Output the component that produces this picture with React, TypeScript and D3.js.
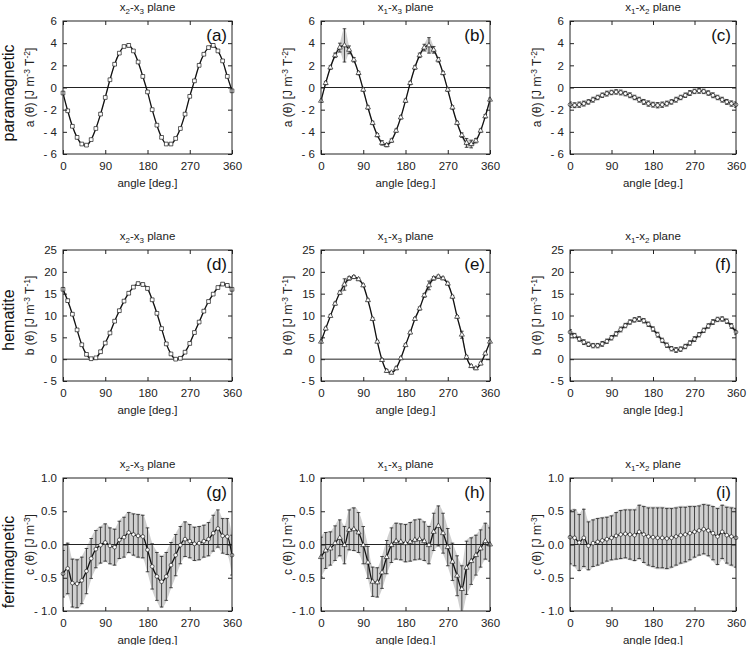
import { useEffect, useRef } from 'react';
import * as d3 from 'd3';

const W = 747;
const H = 645;
const FONT = 'Liberation Sans, Arial, Helvetica, sans-serif';

const angles = [0, 10, 20, 30, 40, 50, 60, 70, 80, 90, 100, 110, 120, 130, 140, 150, 160, 170, 180,
  190, 200, 210, 220, 230, 240, 250, 260, 270, 280, 290, 300, 310, 320, 330, 340, 350, 360];
const angleTicks = [0, 90, 180, 270, 360];
const aTicks = [-6, -4, -2, 0, 2, 4, 6];
const bTicks = [-5, 0, 5, 10, 15, 20, 25];
const cTicks = [-1, -0.5, 0, 0.5, 1];
const rowNames = ['paramagnetic', 'hematite', 'ferrimagnetic'];

// paramagnetic a(θ)
const aX2X3 = [-0.5, -2.1, -3.5, -4.5, -5.1, -5.2, -4.7, -3.7, -2.4, -0.9, 0.7, 2.1, 3.1, 3.7, 3.8, 3.3, 2.3, 1.0, -0.4,
  -2.0, -3.4, -4.5, -5.1, -5.1, -4.6, -3.7, -2.4, -0.8, 0.6, 2.0, 3.0, 3.6, 3.8, 3.3, 2.4, 1.0, -0.3];
const aX2X3Err = [0.12, 0.1, 0.1, 0.12, 0.1, 0.12, 0.1, 0.1, 0.12, 0.1, 0.1, 0.12, 0.1, 0.1, 0.15, 0.1, 0.1, 0.12, 0.1,
  0.1, 0.12, 0.1, 0.1, 0.12, 0.1, 0.1, 0.12, 0.1, 0.1, 0.12, 0.1, 0.1, 0.15, 0.1, 0.1, 0.12, 0.1];
const aX1X3 = [-1.2, 0.4, 1.8, 2.9, 3.6, 3.8, 3.4, 2.5, 1.3, -0.2, -1.8, -3.2, -4.3, -5.0, -5.2, -4.8, -3.9, -2.7, -1.2,
  0.4, 1.8, 2.9, 3.6, 3.8, 3.4, 2.5, 1.3, -0.2, -1.8, -3.2, -4.3, -5.0, -5.1, -4.8, -3.9, -2.6, -1.1];
const aX1X3Err = [0.15, 0.15, 0.15, 0.2, 0.4, 1.5, 0.35, 0.2, 0.15, 0.15, 0.15, 0.15, 0.15, 0.2, 0.15, 0.15, 0.15, 0.15, 0.15,
  0.15, 0.15, 0.2, 0.3, 0.7, 0.3, 0.2, 0.15, 0.15, 0.15, 0.15, 0.2, 0.4, 0.35, 0.2, 0.15, 0.15, 0.15];
const aX1X2 = [-1.55, -1.6, -1.55, -1.45, -1.3, -1.1, -0.9, -0.7, -0.55, -0.45, -0.4, -0.45, -0.55, -0.7, -0.9, -1.1, -1.3, -1.45, -1.55,
  -1.6, -1.55, -1.45, -1.3, -1.1, -0.9, -0.7, -0.5, -0.35, -0.3, -0.35, -0.5, -0.7, -0.9, -1.1, -1.3, -1.45, -1.55];
const aX1X2Err = [0.25, 0.22, 0.24, 0.22, 0.2, 0.22, 0.2, 0.2, 0.22, 0.2, 0.2, 0.22, 0.2, 0.22, 0.2, 0.22, 0.22, 0.24, 0.22,
  0.24, 0.24, 0.22, 0.2, 0.22, 0.2, 0.2, 0.22, 0.2, 0.22, 0.2, 0.2, 0.22, 0.2, 0.22, 0.22, 0.24, 0.25];

// hematite b(θ)
const bX2X3 = [16.0, 13.4, 10.3, 6.7, 3.3, 1.1, 0.1, 0.3, 1.7, 3.7, 6.0, 8.7, 11.1, 13.3, 15.1, 16.5, 17.3, 17.1, 16.2,
  13.6, 10.5, 7.0, 3.5, 1.2, 0.0, 0.2, 1.6, 3.6, 6.1, 8.5, 11.0, 13.2, 14.9, 16.4, 17.2, 16.9, 16.0];
const bX2X3Err = [0.4, 0.35, 0.3, 0.3, 0.3, 0.3, 0.3, 0.3, 0.3, 0.3, 0.3, 0.3, 0.3, 0.3, 0.3, 0.3, 0.35, 0.35, 0.35,
  0.3, 0.3, 0.3, 0.3, 0.3, 0.3, 0.3, 0.3, 0.3, 0.3, 0.3, 0.3, 0.3, 0.3, 0.3, 0.35, 0.35, 0.35];
const bX1X3 = [4.0, 7.0, 9.9, 12.7, 15.2, 17.1, 18.5, 18.8, 18.3, 16.9, 13.5, 9.2, 4.0, -0.2, -2.7, -3.1, -2.1, 0.2, 3.2,
  6.1, 9.2, 11.6, 14.6, 16.9, 18.5, 18.9, 18.5, 17.3, 14.3, 9.7, 5.6, 0.5, -1.6, -2.1, -1.0, 1.3, 4.0];
const bX1X3Err = [0.3, 0.3, 0.3, 0.35, 0.4, 1.3, 0.4, 0.35, 0.3, 0.3, 0.3, 0.3, 0.3, 0.3, 0.35, 0.3, 0.3, 0.3, 0.3,
  0.3, 0.3, 0.35, 0.4, 1.0, 0.4, 0.35, 0.3, 0.3, 0.3, 0.3, 0.8, 0.35, 0.3, 0.3, 0.3, 0.3, 0.3];
const bX1X2 = [6.2, 5.4, 4.6, 3.9, 3.4, 3.1, 3.1, 3.5, 4.1, 4.9, 5.8, 6.8, 7.7, 8.5, 9.0, 9.2, 8.8, 8.0, 6.9,
  5.6, 4.3, 3.2, 2.4, 2.1, 2.3, 2.9, 3.7, 4.6, 5.6, 6.6, 7.6, 8.5, 9.1, 9.2, 8.7, 7.6, 6.2];
const bX1X2Err = [0.6, 0.5, 0.5, 0.55, 0.5, 0.5, 0.5, 0.55, 0.5, 0.5, 0.5, 0.55, 0.5, 0.5, 0.5, 0.55, 0.5, 0.5, 0.5,
  0.55, 0.5, 0.5, 0.5, 0.55, 0.5, 0.5, 0.5, 0.55, 0.5, 0.5, 0.5, 0.55, 0.5, 0.5, 0.5, 0.55, 0.6];

// ferrimagnetic c(θ)
const cX2X3 = [-0.44, -0.36, -0.58, -0.59, -0.54, -0.4, -0.21, -0.07, -0.01, 0.03, -0.02, -0.04, 0.07, 0.11, 0.18, 0.15, 0.13, 0.12, -0.08,
  -0.33, -0.48, -0.56, -0.48, -0.31, -0.16, -0.01, 0.08, 0.05, 0.01, 0.02, 0.05, 0.08, 0.17, 0.24, 0.13, 0.12, -0.16];
const cX2X3Err = [0.35, 0.38, 0.36, 0.36, 0.35, 0.34, 0.3, 0.28, 0.27, 0.28, 0.27, 0.27, 0.28, 0.3, 0.3, 0.31, 0.32, 0.32, 0.33,
  0.34, 0.36, 0.38, 0.36, 0.34, 0.31, 0.28, 0.26, 0.25, 0.25, 0.25, 0.24, 0.25, 0.27, 0.28, 0.26, 0.27, 0.3];
const cX1X3 = [-0.19, -0.09, -0.06, 0.02, 0.1, -0.01, 0.22, 0.23, 0.18, -0.01, -0.27, -0.56, -0.57, -0.42, -0.19, -0.01, 0.05, 0.04, 0.02,
  0.04, 0.07, 0.08, 0.05, -0.01, 0.19, 0.28, 0.17, -0.04, -0.26, -0.47, -0.67, -0.35, -0.25, -0.16, -0.06, 0.05, 0.0];
const cX1X3Err = [0.3, 0.27, 0.25, 0.26, 0.27, 0.28, 0.3, 0.32, 0.3, 0.28, 0.24, 0.22, 0.22, 0.24, 0.25, 0.26, 0.27, 0.27, 0.28,
  0.29, 0.3, 0.3, 0.29, 0.28, 0.28, 0.3, 0.3, 0.28, 0.28, 0.3, 0.35, 0.4, 0.35, 0.3, 0.28, 0.27, 0.25];
const cX1X2 = [0.11, 0.1, 0.03, 0.1, -0.02, 0.02, 0.04, 0.06, 0.08, 0.1, 0.13, 0.15, 0.16, 0.15, 0.14, 0.19, 0.15, 0.12, 0.11,
  0.1, 0.1, 0.09, 0.1, 0.12, 0.14, 0.15, 0.17, 0.19, 0.21, 0.23, 0.21, 0.17, 0.12, 0.19, 0.14, 0.12, 0.1];
const cX1X2Err = [0.4, 0.42, 0.42, 0.43, 0.36, 0.35, 0.35, 0.34, 0.33, 0.33, 0.35, 0.36, 0.36, 0.37, 0.38, 0.4, 0.42, 0.43, 0.44,
  0.45, 0.45, 0.45, 0.44, 0.43, 0.42, 0.41, 0.4, 0.38, 0.37, 0.37, 0.38, 0.4, 0.42, 0.4, 0.42, 0.43, 0.44];

const colX = [[63, 232], [321, 490], [570, 736]];
const rowY = [[21, 154], [250, 381], [478, 611]];
const colLabelX = [34, 292, 541];

type Marker = 'square' | 'triangle' | 'circle';
interface PanelSpec {
  row: number; col: number; letter: string; planes: [string, string];
  values: number[]; errs: number[]; marker: Marker;
}

const panels: PanelSpec[] = [
  { row: 0, col: 0, letter: 'a', planes: ['2', '3'], values: aX2X3, errs: aX2X3Err, marker: 'square' },
  { row: 0, col: 1, letter: 'b', planes: ['1', '3'], values: aX1X3, errs: aX1X3Err, marker: 'triangle' },
  { row: 0, col: 2, letter: 'c', planes: ['1', '2'], values: aX1X2, errs: aX1X2Err, marker: 'circle' },
  { row: 1, col: 0, letter: 'd', planes: ['2', '3'], values: bX2X3, errs: bX2X3Err, marker: 'square' },
  { row: 1, col: 1, letter: 'e', planes: ['1', '3'], values: bX1X3, errs: bX1X3Err, marker: 'triangle' },
  { row: 1, col: 2, letter: 'f', planes: ['1', '2'], values: bX1X2, errs: bX1X2Err, marker: 'circle' },
  { row: 2, col: 0, letter: 'g', planes: ['2', '3'], values: cX2X3, errs: cX2X3Err, marker: 'circle' },
  { row: 2, col: 1, letter: 'h', planes: ['1', '3'], values: cX1X3, errs: cX1X3Err, marker: 'triangle' },
  { row: 2, col: 2, letter: 'i', planes: ['1', '2'], values: cX1X2, errs: cX1X2Err, marker: 'circle' },
];

const rowTicks = [aTicks, bTicks, cTicks];
const rowFmt = [
  (d: number) => (d < 0 ? `- ${-d}` : `${d}`),
  (d: number) => (d < 0 ? `- ${-d}` : `${d}`),
  (d: number) => (d < 0 ? `- ${(-d).toFixed(1)}` : d.toFixed(1)),
];
const rowYLabel = [
  { q: 'a', parts: [['-3'], ['T', '-2']] },
  { q: 'b', parts: [['-3'], ['T', '-1']] },
  { q: 'c', parts: [['-3']] },
];

function drawPanel(svg: d3.Selection<SVGSVGElement, unknown, null, undefined>, p: PanelSpec) {
  const [x0, x1] = colX[p.col];
  const [y0, y1] = rowY[p.row];
  const ticks = rowTicks[p.row];
  const x = d3.scaleLinear().domain([0, 360]).range([x0, x1]);
  const y = d3.scaleLinear().domain([ticks[0], ticks[ticks.length - 1]]).range([y1, y0]);
  const cid = `clip-${p.letter}`;
  svg.append('defs').append('clipPath').attr('id', cid)
    .append('rect').attr('x', x0).attr('y', y0).attr('width', x1 - x0).attr('height', y1 - y0);

  const pts = angles.map((a, i) => ({ a, v: p.values[i], e: p.errs[i] }));
  const g = svg.append('g');
  const plot = g.append('g').attr('clip-path', `url(#${cid})`);

  const band = d3.area<typeof pts[0]>().x((d) => x(d.a)).y0((d) => y(d.v - d.e * 1.05)).y1((d) => y(d.v + d.e * 1.05)).curve(d3.curveMonotoneX);
  plot.append('path').datum(pts).attr('d', band as any).attr('fill', '#d0d0d0');

  plot.append('line').attr('x1', x0).attr('x2', x1).attr('y1', y(0)).attr('y2', y(0)).attr('stroke', '#222').attr('stroke-width', 1);

  const bars = plot.selectAll('.bar').data(pts).enter().append('g').attr('stroke', '#222').attr('stroke-width', 0.8);
  bars.append('line').attr('x1', (d) => x(d.a)).attr('x2', (d) => x(d.a)).attr('y1', (d) => y(d.v - d.e)).attr('y2', (d) => y(d.v + d.e));
  bars.append('line').attr('x1', (d) => x(d.a) - 1.8).attr('x2', (d) => x(d.a) + 1.8).attr('y1', (d) => y(d.v - d.e)).attr('y2', (d) => y(d.v - d.e));
  bars.append('line').attr('x1', (d) => x(d.a) - 1.8).attr('x2', (d) => x(d.a) + 1.8).attr('y1', (d) => y(d.v + d.e)).attr('y2', (d) => y(d.v + d.e));

  const line = d3.line<typeof pts[0]>().x((d) => x(d.a)).y((d) => y(d.v)).curve(d3.curveMonotoneX);
  plot.append('path').datum(pts).attr('d', line as any).attr('fill', 'none').attr('stroke', '#111').attr('stroke-width', 1.3);

  const symType = p.marker === 'square' ? d3.symbolSquare : p.marker === 'triangle' ? d3.symbolTriangle : d3.symbolCircle;
  const symSize = p.marker === 'square' ? 14 : 11;
  g.selectAll('.mk').data(pts).enter().append('path')
    .attr('transform', (d) => `translate(${x(d.a)},${y(d.v)})`)
    .attr('d', d3.symbol().type(symType).size(symSize) as any)
    .attr('fill', 'white').attr('stroke', '#222').attr('stroke-width', 0.7);

  // axes, ticks pointing inward on all four sides
  const style = (s: any) => {
    s.select('.domain').remove();
    s.selectAll('.tick line').attr('stroke', '#222');
    s.selectAll('text').attr('font-size', 11.5).attr('fill', '#222').attr('font-family', FONT);
  };
  g.append('g').attr('transform', `translate(0,${y1})`)
    .call(d3.axisBottom(x).tickValues(angleTicks).tickSizeInner(-4).tickSizeOuter(0).tickPadding(8)).call(style);
  g.append('g').attr('transform', `translate(0,${y0})`)
    .call(d3.axisTop(x).tickValues(angleTicks).tickSizeInner(-4).tickSizeOuter(0).tickFormat(() => '')).call(style);
  g.append('g').attr('transform', `translate(${x0},0)`)
    .call(d3.axisLeft(y).tickValues(ticks).tickSizeInner(-4).tickSizeOuter(0).tickPadding(6).tickFormat((d) => rowFmt[p.row](Number(d)))).call(style);
  g.append('g').attr('transform', `translate(${x1},0)`)
    .call(d3.axisRight(y).tickValues(ticks).tickSizeInner(-4).tickSizeOuter(0).tickFormat(() => '')).call(style);
  g.append('rect').attr('x', x0).attr('y', y0).attr('width', x1 - x0).attr('height', y1 - y0)
    .attr('fill', 'none').attr('stroke', '#222').attr('stroke-width', 1);

  // title
  const cx = (x0 + x1) / 2;
  const t = g.append('text').attr('x', cx).attr('y', y0 - 10).attr('text-anchor', 'middle')
    .attr('font-family', FONT).attr('font-size', 11.5).attr('fill', '#222');
  t.append('tspan').text('x');
  t.append('tspan').attr('font-size', 8).attr('dy', 3).text(p.planes[0]);
  t.append('tspan').attr('dy', -3).text('-x');
  t.append('tspan').attr('font-size', 8).attr('dy', 3).text(p.planes[1]);
  t.append('tspan').attr('dy', -3).text(' plane');

  // panel letter
  g.append('text').attr('x', x1 - 5).attr('y', y0 + 20).attr('text-anchor', 'end')
    .attr('font-family', FONT).attr('font-size', 17).attr('fill', '#111').text(`(${p.letter})`);

  // x label
  g.append('text').attr('x', cx).attr('y', y1 + 33).attr('text-anchor', 'middle')
    .attr('font-family', FONT).attr('font-size', 11.5).attr('fill', '#222').text('angle [deg.]');

  // y label
  const yl = rowYLabel[p.row];
  const yt = g.append('text').attr('transform', `translate(${colLabelX[p.col]},${(y0 + y1) / 2}) rotate(-90)`)
    .attr('text-anchor', 'middle').attr('font-family', FONT).attr('font-size', 12).attr('fill', '#222');
  yt.append('tspan').text(`${yl.q} (θ) [J m`);
  yt.append('tspan').attr('font-size', 8.5).attr('dy', -4.5).text(yl.parts[0][0]);
  if (yl.parts.length > 1) {
    yt.append('tspan').attr('dy', 4.5).text(` ${yl.parts[1][0]}`);
    yt.append('tspan').attr('font-size', 8.5).attr('dy', -4.5).text(yl.parts[1][1]);
  }
  yt.append('tspan').attr('dy', 4.5).text(']');
}

function Figure() {
  const ref = useRef<SVGSVGElement | null>(null);
  useEffect(() => {
    const svg = d3.select(ref.current!);
    svg.selectAll('*').remove();
    svg.append('rect').attr('width', W).attr('height', H).attr('fill', 'white');
    panels.forEach((p) => drawPanel(svg, p));
    const rowCenter = [93, 320, 562];
    rowNames.forEach((name, i) => {
      svg.append('text').attr('transform', `translate(14,${rowCenter[i]}) rotate(-90)`)
        .attr('text-anchor', 'middle').attr('font-family', FONT).attr('font-size', 16).attr('fill', '#111').text(name);
    });
  }, []);
  return <svg ref={ref} width={W} height={H} style={{ position: 'absolute', left: 0, top: 0, display: 'block' }} />;
}

export default function App() {
  return <Figure />;
}
